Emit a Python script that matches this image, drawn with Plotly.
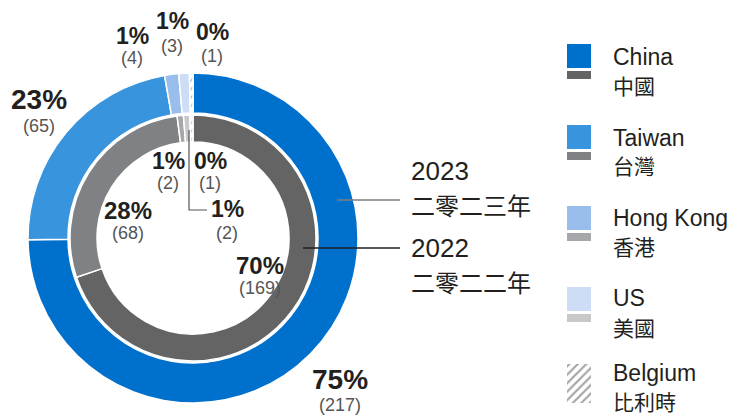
import plotly.graph_objects as go

# ---------------- data ----------------
categories = ["China", "Taiwan", "Hong Kong", "US", "Belgium"]
categories_zh = ["中國", "台灣", "香港", "美國", "比利時"]
values_2023 = [217, 65, 4, 3, 1]
values_2022 = [169, 68, 2, 2, 1]
pct_2023 = ["75%", "23%", "1%", "1%", "0%"]
pct_2022 = ["70%", "28%", "1%", "1%", "0%"]
year_labels = [("2023", "二零二三年"), ("2022", "二零二二年")]

colors_2023 = ["#0070CD", "#3894DC", "#9ABEEC", "#CCDDF5", "#FFFFFF"]
colors_2022 = ["#646464", "#808185", "#A6A7AA", "#C8C8C8", "#FFFFFF"]
hatch = ["", "", "", "", "/"]

W, H = 729, 415
LATIN = "Liberation Sans, Arial, Noto Sans CJK TC, sans-serif"
CJK = "Noto Sans CJK TC, Liberation Sans, sans-serif"
DARK = "#231F20"
GREY = "#555555"

# ring geometry (pixels)
cx, cy = 193, 238
R_out, r_out = 165, 125
R_in, r_in = 123, 96


def dom(R):
    return dict(x=[(cx - R) / W, (cx + R) / W],
                y=[(H - cy - R) / H, (H - cy + R) / H])


fig = go.Figure()

fig.add_trace(go.Pie(
    values=values_2023, labels=categories, sort=False, direction="clockwise",
    rotation=0, hole=r_out / R_out, domain=dom(R_out), textinfo="none",
    marker=dict(colors=colors_2023, line=dict(color="white", width=1.5),
                pattern=dict(shape=hatch, fgcolor="#9ABEEC", size=6, solidity=0.3)),
    showlegend=False, name="2023"))

fig.add_trace(go.Pie(
    values=values_2022, labels=categories, sort=False, direction="clockwise",
    rotation=0, hole=r_in / R_in, domain=dom(R_in), textinfo="none",
    marker=dict(colors=colors_2022, line=dict(color="white", width=1.5),
                pattern=dict(shape=hatch, fgcolor="#C8C8C8", size=6, solidity=0.3)),
    showlegend=False, name="2022"))

# ---------------- legend swatches ----------------
leg_top = [44, 125, 206, 287, 364]
sw_x = 579
fig.add_trace(go.Bar(
    x=[sw_x] * 5, y=[24] * 5, base=leg_top, width=[24] * 5,
    marker=dict(color=colors_2023, line=dict(width=0),
                pattern=dict(shape=hatch, fgcolor="#7FAEEA", size=6, solidity=0.35)),
    showlegend=False, hoverinfo="skip"))
grey_base = [t + 27 for t in leg_top[:4]] + [leg_top[4] + 24]
grey_h = [8, 8, 8, 8, 15]
fig.add_trace(go.Bar(
    x=[sw_x] * 5, y=grey_h, base=grey_base, width=[24] * 5,
    marker=dict(color=colors_2022, line=dict(width=0),
                pattern=dict(shape=hatch, fgcolor="#C8C8C8", size=6, solidity=0.35)),
    showlegend=False, hoverinfo="skip"))

leg_en_y = [57, 138, 218, 298, 373]
leg_zh_y = [85, 165, 246, 327, 401]
ann = []
for en, zh, ye, yz in zip(categories, categories_zh, leg_en_y, leg_zh_y):
    ann.append(dict(x=611, y=ye, text=en, xanchor="left", yanchor="middle",
                    font=dict(family=LATIN, size=23, color=DARK)))
    ann.append(dict(x=611, y=yz, text=zh, xanchor="left", yanchor="middle",
                    font=dict(family=CJK, size=21, color=DARK)))

# ---------------- value labels ----------------
# (x, y of percent, y of count, font size of percent)
pos_2023 = [(340, 379, 405, 28), (39, 99, 126, 28), (132, 36, 58, 23),
            (172, 21, 46, 23), (212, 32, 56, 23)]
pos_2022 = [(260, 265, 288, 24), (128, 210, 233, 24), (168, 161, 183, 23),
            (227, 209, 233, 23), (210, 161, 183, 23)]
for vals, pcts, pos in [(values_2023, pct_2023, pos_2023), (values_2022, pct_2022, pos_2022)]:
    for v, p, (x, yp, yc, fs) in zip(vals, pcts, pos):
        ann.append(dict(x=x, y=yp, text="<b>%s</b>" % p, xanchor="center", yanchor="middle",
                        font=dict(family=LATIN, size=fs, color=DARK)))
        ann.append(dict(x=x, y=yc, text="(%d)" % v, xanchor="center", yanchor="middle",
                        font=dict(family=LATIN, size=18, color=GREY)))

# ---------------- year labels ----------------
for (yr, zh), (y1, y2) in zip(year_labels, [(171, 204), (248, 281)]):
    ann.append(dict(x=409, y=y1, text=yr, xanchor="left", yanchor="middle",
                    font=dict(family=LATIN, size=26, color=DARK)))
    ann.append(dict(x=409, y=y2, text=zh, xanchor="left", yanchor="middle",
                    font=dict(family=CJK, size=24, color=DARK)))

for a in ann:
    a.update(xref="x", yref="y", showarrow=False)

shapes = [
    dict(type="line", x0=337, x1=400, y0=200, y1=200, line=dict(color="#7F7F7F", width=1.5)),
    dict(type="line", x0=303, x1=400, y0=248, y1=248, line=dict(color="#231F20", width=1.5)),
    dict(type="path", path="M 189 130 L 189 210 L 207 210", line=dict(color="#555555", width=1.2)),
]
for s in shapes:
    s.update(xref="x", yref="y", layer="above")

fig.update_layout(
    width=W, height=H, margin=dict(l=0, r=0, t=0, b=0),
    paper_bgcolor="white", plot_bgcolor="rgba(0,0,0,0)",
    barmode="overlay",
    xaxis=dict(range=[0, W], visible=False, fixedrange=True),
    yaxis=dict(range=[H, 0], visible=False, fixedrange=True),
    annotations=ann, shapes=shapes,
)

fig.write_html("out.html", config={"displayModeBar": False},
               post_script="document.body.style.margin='0';document.body.style.overflow='hidden';")
